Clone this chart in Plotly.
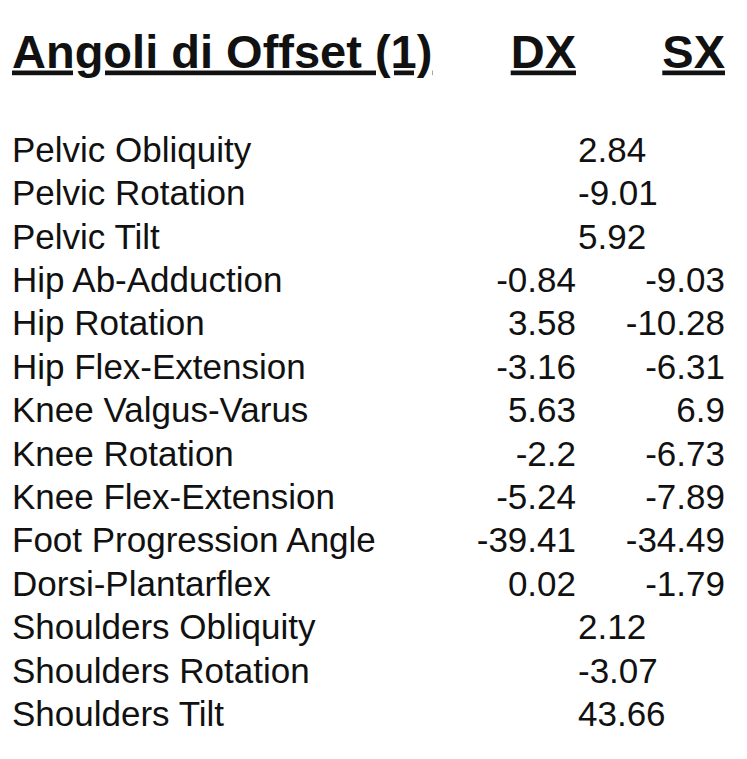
import plotly.graph_objects as go

# Table content
title = "Angoli di Offset (1)"
col_headers = ["DX", "SX"]

labels = [
    "Pelvic Obliquity",
    "Pelvic Rotation",
    "Pelvic Tilt",
    "Hip Ab-Adduction",
    "Hip Rotation",
    "Hip Flex-Extension",
    "Knee Valgus-Varus",
    "Knee Rotation",
    "Knee Flex-Extension",
    "Foot Progression Angle",
    "Dorsi-Plantarflex",
    "Shoulders Obliquity",
    "Shoulders Rotation",
    "Shoulders Tilt",
]

# single value rows (no side split)
both = [2.84, -9.01, 5.92, None, None, None, None, None, None, None, None, 2.12, -3.07, 43.66]
dx = [None, None, None, -0.84, 3.58, -3.16, 5.63, -2.2, -5.24, -39.41, 0.02, None, None, None]
sx = [None, None, None, -9.03, -10.28, -6.31, 6.9, -6.73, -7.89, -34.49, -1.79, None, None, None]

FONT = "Liberation Sans"
body = dict(family=FONT, size=35, color="#111111")
head = dict(family=FONT, size=47, color="#111111", weight="bold", lineposition="under")

rows = list(range(len(labels)))
HEAD_ROW = -2.24


def col(values, xpos, pos):
    idx = [i for i, v in enumerate(values) if v is not None]
    return go.Scatter(
        x=[xpos] * len(idx),
        y=[rows[i] for i in idx],
        text=[str(values[i]) for i in idx],
        mode="text",
        textposition=pos,
        textfont=body,
        hoverinfo="skip",
    )


fig = go.Figure()

fig.add_trace(go.Scatter(
    x=[12] * len(labels), y=rows, text=labels, mode="text",
    textposition="middle right", textfont=body, hoverinfo="skip",
))
fig.add_trace(col(both, 578, "middle right"))
fig.add_trace(col(dx, 576, "middle left"))
fig.add_trace(col(sx, 725, "middle left"))

# header line
fig.add_trace(go.Scatter(
    x=[12], y=[HEAD_ROW], text=[title], mode="text",
    textposition="middle right", textfont=head, hoverinfo="skip",
))
fig.add_trace(go.Scatter(
    x=[576, 725], y=[HEAD_ROW, HEAD_ROW], text=col_headers, mode="text",
    textposition="middle left", textfont=head, hoverinfo="skip",
))

# page body has an 8px margin, so the axes are offset to keep page pixels
fig.update_layout(
    width=731,
    height=743,
    margin=dict(l=0, r=0, t=0, b=0),
    paper_bgcolor="white",
    plot_bgcolor="white",
    showlegend=False,
    xaxis=dict(range=[8, 739], visible=False, fixedrange=True),
    yaxis=dict(range=[13.779, -3.341], visible=False, fixedrange=True),
)

fig.write_html("out.html", config={"displayModeBar": False})
